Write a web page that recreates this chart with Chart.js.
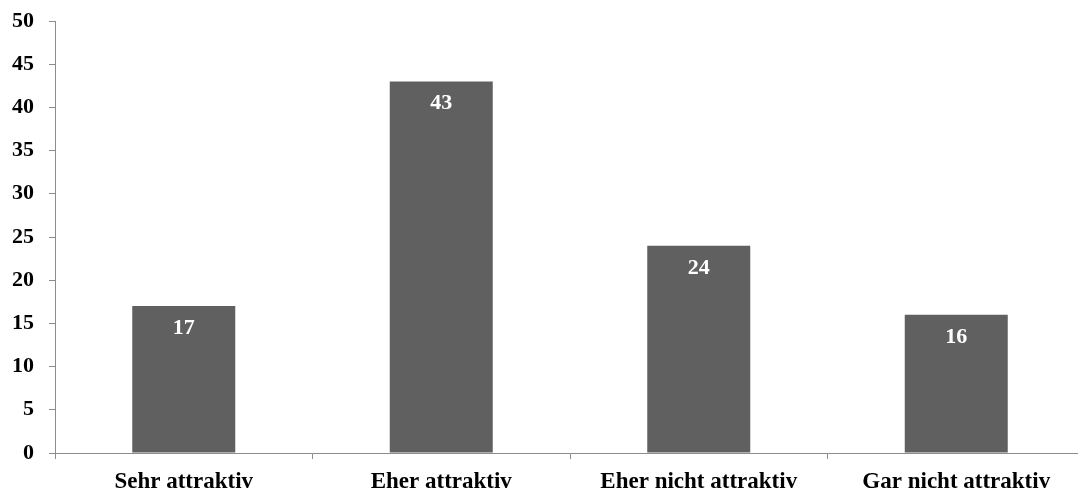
<!DOCTYPE html>
<html>
<head>
<meta charset="utf-8">
<script src="https://cdn.jsdelivr.net/npm/chart.js@4"></script>
<style>
  html, body { margin: 0; padding: 0; background: #fff; overflow: hidden; }
  #wrap { width: 1086px; height: 490px; }
</style>
</head>
<body>
<div id="wrap"><canvas id="c" width="1086" height="490"></canvas></div>
<script>
const categories = ['Sehr attraktiv', 'Eher attraktiv', 'Eher nicht attraktiv', 'Gar nicht attraktiv'];
const values = [17, 43, 24, 16];
const yTicks = [0, 5, 10, 15, 20, 25, 30, 35, 40, 45, 50];

const FONT = '"Liberation Serif", "Times New Roman", serif';
const AXIS_COLOR = '#8c8c8c';

// white value labels placed inside the top of each bar
const valueLabels = {
  id: 'valueLabels',
  afterDatasetsDraw(chart) {
    const ctx = chart.ctx;
    const meta = chart.getDatasetMeta(0);
    ctx.save();
    ctx.fillStyle = '#ffffff';
    ctx.font = 'bold 22px ' + FONT;
    ctx.textAlign = 'center';
    ctx.textBaseline = 'alphabetic';
    meta.data.forEach((bar, i) => {
      ctx.fillText(String(values[i]), bar.x, bar.y + 28);
    });
    ctx.restore();
  }
};

new Chart(document.getElementById('c'), {
  type: 'bar',
  data: {
    labels: categories,
    datasets: [{
      data: values,
      backgroundColor: '#606060',
      borderWidth: 0,
      categoryPercentage: 0.4,
      barPercentage: 1.0
    }]
  },
  options: {
    responsive: false,
    animation: false,
    layout: { padding: { top: 21, right: 1, left: 0, bottom: 0 } },
    plugins: { legend: { display: false }, tooltip: { enabled: false } },
    scales: {
      x: {
        offset: true,
        grid: {
          offset: true,
          drawOnChartArea: false,
          drawTicks: true,
          tickLength: 6,
          color: AXIS_COLOR
        },
        border: { color: AXIS_COLOR, width: 1 },
        ticks: {
          color: '#000',
          font: { family: FONT, weight: 'bold', size: 23 },
          padding: 9,
          maxRotation: 0,
          autoSkip: false
        },
        afterFit(scale) { scale.height = 37; }
      },
      y: {
        min: 0,
        max: 50,
        afterBuildTicks(scale) { scale.ticks = yTicks.map(v => ({ value: v })); },
        grid: {
          drawOnChartArea: false,
          drawTicks: true,
          tickLength: 6,
          color: AXIS_COLOR
        },
        border: { color: AXIS_COLOR, width: 1 },
        ticks: {
          color: '#000',
          font: { family: FONT, weight: 'bold', size: 22, lineHeight: 1 },
          padding: 15
        },
        afterFit(scale) {
          scale.width = 55;
          scale.paddingTop = 0;
          scale.paddingBottom = 0;
        }
      }
    }
  },
  plugins: [valueLabels]
});
</script>
</body>
</html>
